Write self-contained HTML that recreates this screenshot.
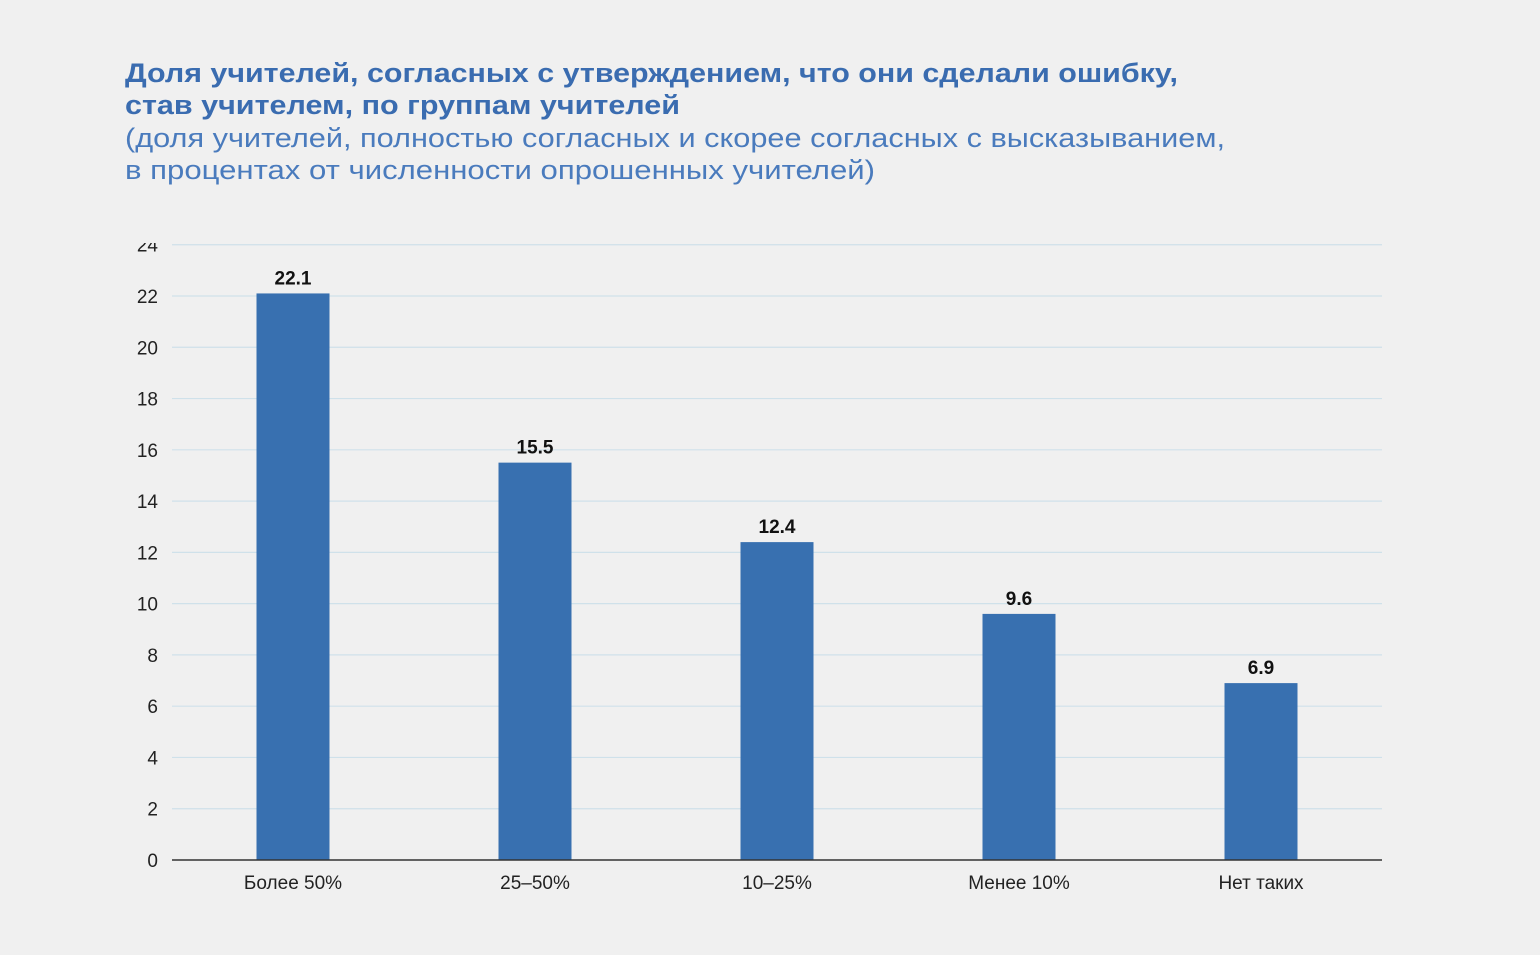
<!DOCTYPE html>
<html><head><meta charset="utf-8"><style>
html,body{margin:0;padding:0;background:#f0f0f0;}
svg{display:block;font-family:"Liberation Sans",sans-serif;}
</style></head><body>
<svg id="chart" width="1540" height="955" xmlns="http://www.w3.org/2000/svg">
<rect width="1540" height="955" fill="#f0f0f0"/>
<g fill="#3a6cb0" font-weight="bold" font-size="27">
<text x="125" y="82" textLength="1053" lengthAdjust="spacingAndGlyphs">Доля учителей, согласных с утверждением, что они сделали ошибку,</text>
<text x="125" y="114" textLength="555" lengthAdjust="spacingAndGlyphs">став учителем, по группам учителей</text>
</g>
<g fill="#4a7bbd" font-size="27">
<text x="125" y="147" textLength="1100" lengthAdjust="spacingAndGlyphs">(доля учителей, полностью согласных и скорее согласных с высказыванием,</text>
<text x="125" y="179" textLength="750" lengthAdjust="spacingAndGlyphs">в процентах от численности опрошенных учителей)</text>
</g>
<defs><clipPath id="c"><rect x="0" y="243" width="1540" height="700"/></clipPath></defs>
<g id="grid" clip-path="url(#c)"></g>
<g id="bars"></g>
<line x1="172" x2="1382" y1="860" y2="860" stroke="#333" stroke-width="1.5"/>
</svg>
<script>
const categories=["Более 50%","25–50%","10–25%","Менее 10%","Нет таких"];
const values=[22.1,15.5,12.4,9.6,6.9];
const valueLabels=["22.1","15.5","12.4","9.6","6.9"];
const ticks=[0,2,4,6,8,10,12,14,16,18,20,22,24];
const NS="http://www.w3.org/2000/svg";
const x0=172,x1=1382,y0=860,unit=564/22;
const yS=v=>y0-v*unit;
const step=(x1-x0)/categories.length;
const xC=i=>x0+step*(i+0.5);
const grid=document.getElementById('grid'),bars=document.getElementById('bars');
function mk(t,a,p){const e=document.createElementNS(NS,t);for(const k in a)e.setAttribute(k,a[k]);p.appendChild(e);return e;}
ticks.forEach(t=>{
  if(t>0){const l=mk('line',{x1:x0,x2:x1,y1:yS(t),y2:yS(t),stroke:'#cfe1ea','stroke-width':1.2},grid);
  
  }
  const tx=mk('text',{x:158,y:yS(t)+7,'text-anchor':'end','font-size':19,fill:'#222'},grid);
  tx.textContent=t;
  
  
});
const bw=73;
values.forEach((v,i)=>{
  const r=mk('rect',{x:xC(i)-bw/2,y:yS(v),width:bw,height:y0-yS(v),fill:'#3870b0'},bars);
  
  
  const lb=mk('text',{x:xC(i),y:yS(v)-9,'text-anchor':'middle','font-size':19,'font-weight':'bold',fill:'#111'},bars);
  lb.textContent=valueLabels[i];
  
  
  const cl=mk('text',{x:xC(i),y:889,'text-anchor':'middle','font-size':19,fill:'#222'},bars);
  cl.textContent=categories[i];
  
  
});
</script>
</body></html>
